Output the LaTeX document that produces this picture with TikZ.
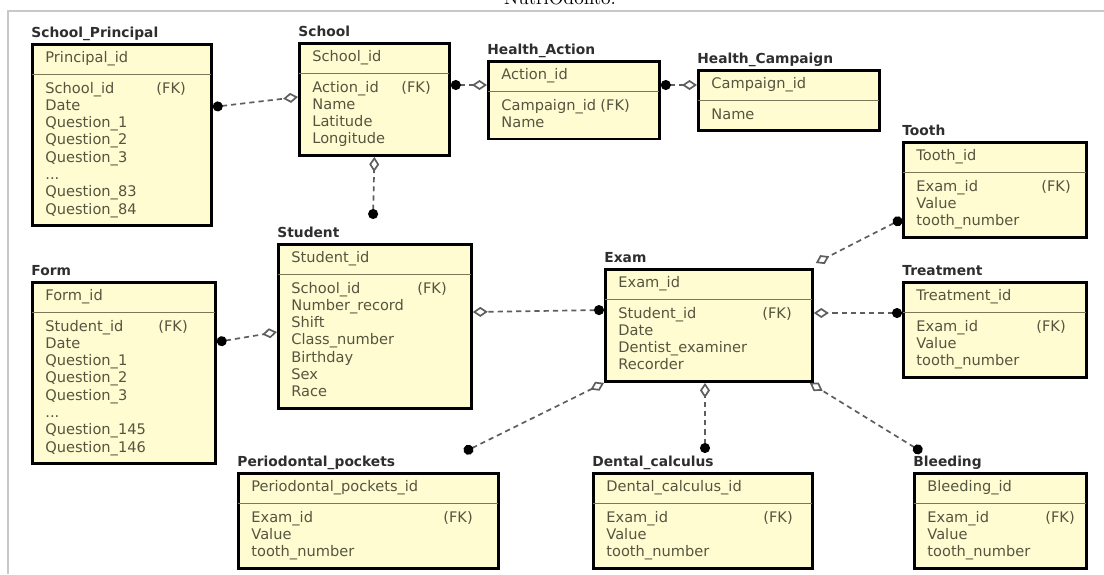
\documentclass[tikz,border=0pt]{standalone}
\usepackage{fontspec}
\newfontfamily\erfont{DejaVu Sans}
\usetikzlibrary{shapes.multipart, arrows.meta}
\definecolor{entfill}{HTML}{FFFCD2}
\definecolor{enttext}{HTML}{55553F}
\definecolor{titletext}{HTML}{2E2E2E}
\definecolor{entsep}{HTML}{7A7858}
\definecolor{relgray}{HTML}{5E5E5E}
\definecolor{framegray}{HTML}{C8C8C8}
\newcommand{\entfont}{\erfont\fontsize{7.3pt}{8.65pt}\selectfont}
\newcommand{\titlefont}{\erfont\bfseries\fontsize{6.9pt}{8pt}\selectfont}
\newcommand{\fkrow}[2]{\makebox[#1][l]{#2}(FK)}
\tikzset{
	entity/.style={
			rectangle split,
			rectangle split parts=2,
			rectangle split draw splits=false,
			draw=black,
			line width=1.4pt,
			fill=entfill,
			anchor=north west,
			inner xsep=6.5pt,
			inner ysep=2.5pt,
			align=left,
			font=\entfont,
			text=enttext
		},
	enttitle/.style={
			anchor=base west,
			inner sep=0pt,
			font=\titlefont,
			text=titletext
		},
	septhin/.style={
			draw=entsep,
			line width=0.9pt,
			shorten <=0.7pt,
			shorten >=0.7pt
		},
	rel/.style={
			draw=relgray,
			line width=0.85pt,
			dash pattern=on 2.6pt off 2pt,
			{Circle[length=5pt, color=black]}-{Diamond[length=7.5pt, width=5pt, fill=white]}
		},
	captext/.style={
			anchor=base,
			inner sep=0pt,
			font=\fontsize{9.5pt}{11pt}\selectfont
		}
}

\begin{document}
\begin{tikzpicture}[x=0.5pt, y=-0.5pt]
	\useasboundingbox (0,0) rectangle (1104,574);

	\node[captext] (caption) at (560,4) {NutriOdonto.};
	\draw[framegray, line width=1.2pt] (8,574) -- (8,11) -- (1104,11);

	\node[entity, text width=76.5pt] (sp) at (31,43) {\strut Principal\_id
		\nodepart{two}\strut\fkrow{55.5pt}{School\_id}\\ Date\\ Question\_1\\ Question\_2\\ Question\_3\\ ...\\ Question\_83\\ Question\_84\strut};
	\node[entity, text width=62pt] (school) at (298,42) {\strut School\_id
		\nodepart{two}\strut\fkrow{44.5pt}{Action\_id}\\ Name\\ Latitude\\ Longitude\strut};
	\node[entity, text width=72.5pt] (haction) at (487,60) {\strut Action\_id
		\nodepart{two}\strut\fkrow{49.5pt}{Campaign\_id}\\ Name\strut};
	\node[entity, text width=77.5pt] (hcamp) at (697,69) {\strut Campaign\_id
		\nodepart{two}\strut Name\strut};
	\node[entity, text width=78.5pt] (tooth) at (902,141) {\strut Tooth\_id
		\nodepart{two}\strut\fkrow{62.5pt}{Exam\_id}\\ Value\\ tooth\_number\strut};
	\node[entity, text width=83.5pt] (student) at (277,243) {\strut Student\_id
		\nodepart{two}\strut\fkrow{63pt}{School\_id}\\ Number\_record\\ Shift\\ Class\_number\\ Birthday\\ Sex\\ Race\strut};
	\node[entity, text width=78.5pt] (form) at (31,281) {\strut Form\_id
		\nodepart{two}\strut\fkrow{56.5pt}{Student\_id}\\ Date\\ Question\_1\\ Question\_2\\ Question\_3\\ ...\\ Question\_145\\ Question\_146\strut};
	\node[entity, text width=90.5pt] (exam) at (604,268) {\strut Exam\_id
		\nodepart{two}\strut\fkrow{72pt}{Student\_id}\\ Date\\ Dentist\_examiner\\ Recorder\strut};
	\node[entity, text width=78.5pt] (treat) at (902,281) {\strut Treatment\_id
		\nodepart{two}\strut\fkrow{60pt}{Exam\_id}\\ Value\\ tooth\_number\strut};
	\node[entity, text width=117pt] (perio) at (237,472) {\strut Periodontal\_pockets\_id
		\nodepart{two}\strut\fkrow{96pt}{Exam\_id}\\ Value\\ tooth\_number\strut};
	\node[entity, text width=96.5pt] (dcalc) at (592,472) {\strut Dental\_calculus\_id
		\nodepart{two}\strut\fkrow{78.5pt}{Exam\_id}\\ Value\\ tooth\_number\strut};
	\node[entity, text width=73pt] (bleed) at (913,472) {\strut Bleeding\_id
		\nodepart{two}\strut\fkrow{59pt}{Exam\_id}\\ Value\\ tooth\_number\strut};

	\foreach \e in {sp,school,haction,hcamp,tooth,student,form,exam,treat,perio,dcalc,bleed}
		\draw[septhin] (\e.text split west) -- (\e.text split east);

	\node[enttitle] (sptitle) at ([yshift=3pt]sp.north west) {School\_Principal};
	\node[enttitle] (schooltitle) at ([yshift=3pt]school.north west) {School};
	\node[enttitle] (hactiontitle) at ([yshift=3pt]haction.north west) {Health\_Action};
	\node[enttitle] (hcamptitle) at ([yshift=3pt]hcamp.north west) {Health\_Campaign};
	\node[enttitle] (toothtitle) at ([yshift=3pt]tooth.north west) {Tooth};
	\node[enttitle] (studenttitle) at ([yshift=3pt]student.north west) {Student};
	\node[enttitle] (formtitle) at ([yshift=3pt]form.north west) {Form};
	\node[enttitle] (examtitle) at ([yshift=3pt]exam.north west) {Exam};
	\node[enttitle] (treattitle) at ([yshift=3pt]treat.north west) {Treatment};
	\node[enttitle] (periotitle) at ([yshift=3pt]perio.north west) {Periodontal\_pockets};
	\node[enttitle] (dcalctitle) at ([yshift=3pt]dcalc.north west) {Dental\_calculus};
	\node[enttitle] (bleedtitle) at ([yshift=3pt]bleed.north west) {Bleeding};

	\coordinate (studot) at (373,219);
	\coordinate (periodot) at (464,452);
	\coordinate (dcalcdot) at (705,453);
	\coordinate (bleeddot) at (922,452);

	\draw[rel] (sp.east |- 0,107) -- (school.west |- 0,97);
	\draw[rel] (school.east |- 0,85) -- (haction.west |- 0,85);
	\draw[rel] (haction.east |- 0,85) -- (hcamp.west |- 0,85);
	\draw[rel] (studot) -- (school.south);
	\draw[rel] (form.east |- 0,342) -- (student.west |- 0,332);
	\draw[rel] (exam.west |- 0,310) -- (student.east |- 0,312);
	\draw[rel] (treat.west |- 0,313) -- (exam.east |- 0,313);
	\draw[rel] (tooth.west |- 0,219) -- ([shift={(1pt,2.5pt)}]exam.north east);
	\draw[rel] (periodot) -- (exam.south west);
	\draw[rel] (dcalcdot) -- (exam.south -| dcalcdot);
	\draw[rel] (bleeddot) -- ([xshift=-2pt]exam.south east);
\end{tikzpicture}
\end{document}
